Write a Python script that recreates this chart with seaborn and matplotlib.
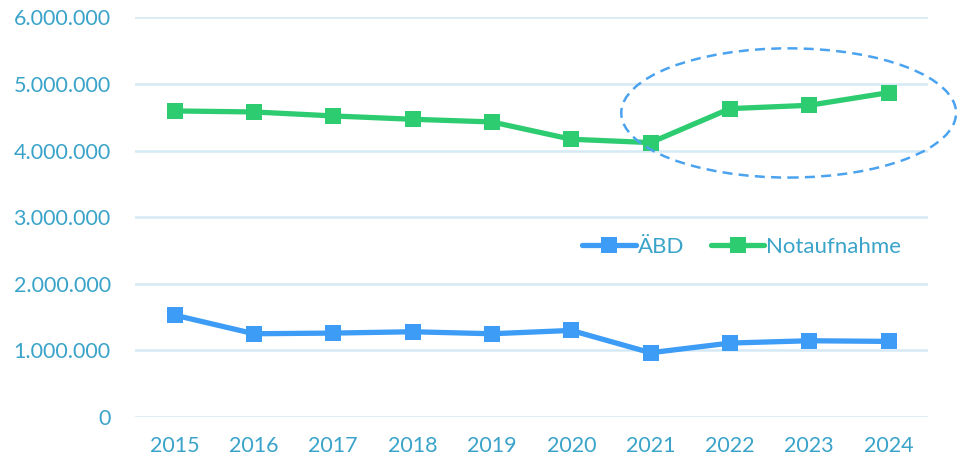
import pandas as pd
import matplotlib.pyplot as plt
import seaborn as sns
from matplotlib.patches import Ellipse
from matplotlib.ticker import FuncFormatter

years = ['2015', '2016', '2017', '2018', '2019', '2020', '2021', '2022', '2023', '2024']
abd = [1530000, 1250000, 1260000, 1280000, 1250000, 1300000, 965000, 1110000, 1145000, 1135000]
notaufnahme = [4595000, 4580000, 4520000, 4470000, 4430000, 4170000, 4120000, 4630000, 4680000, 4870000]
series_names = ['ÄBD', 'Notaufnahme']
series_colors = ['#3d9cf5', '#2ecc71']

df = pd.DataFrame({'Jahr': years * 2,
                   'Wert': abd + notaufnahme,
                   'Serie': [series_names[0]] * len(years) + [series_names[1]] * len(years)})

sns.set_style('white')
plt.rcParams['font.family'] = ['Lato', 'DejaVu Sans']
text_color = '#3aa3c9'

fig = plt.figure(figsize=(9.57, 4.57), dpi=100)
ax = fig.add_axes([0.141, 0.0875, 0.829, 0.8745])

sns.lineplot(data=df, x='Jahr', y='Wert', hue='Serie', palette=series_colors,
             marker='s', markersize=11, markeredgewidth=0, linewidth=3.8,
             ax=ax, zorder=3)

ax.set_xlim(-0.5, len(years) - 0.5)
ax.set_ylim(0, 6000000)
ax.set_yticks(range(0, 6000001, 1000000))
ax.yaxis.set_major_formatter(FuncFormatter(lambda v, p: f'{int(v):,}'.replace(',', '.')))
ax.grid(axis='y', color='#d6eaf5', linewidth=1.8, zorder=0)
ax.grid(axis='x', visible=False)
for s in ax.spines.values():
    s.set_visible(False)
ax.tick_params(axis='both', colors=text_color, labelsize=15.5, length=0)
ax.tick_params(axis='y', pad=17.5)
ax.tick_params(axis='x', pad=14)
ax.set_xlabel('')
ax.set_ylabel('')

# Hervorhebung 2021-2024
ell = Ellipse((7.74, 4565000), 4.22, 1940000, fill=False, edgecolor='#4ba3f0',
              linestyle=(0, (4, 2.5)), linewidth=1.8, clip_on=False, zorder=4)
ax.add_patch(ell)

leg = ax.legend(loc='center', bbox_to_anchor=(0.765, 0.4255), ncol=2, frameon=False,
                fontsize=16, labelcolor=text_color, handlelength=2.4,
                handletextpad=0.1, columnspacing=1.2)

plt.savefig('out.png', dpi=100)
